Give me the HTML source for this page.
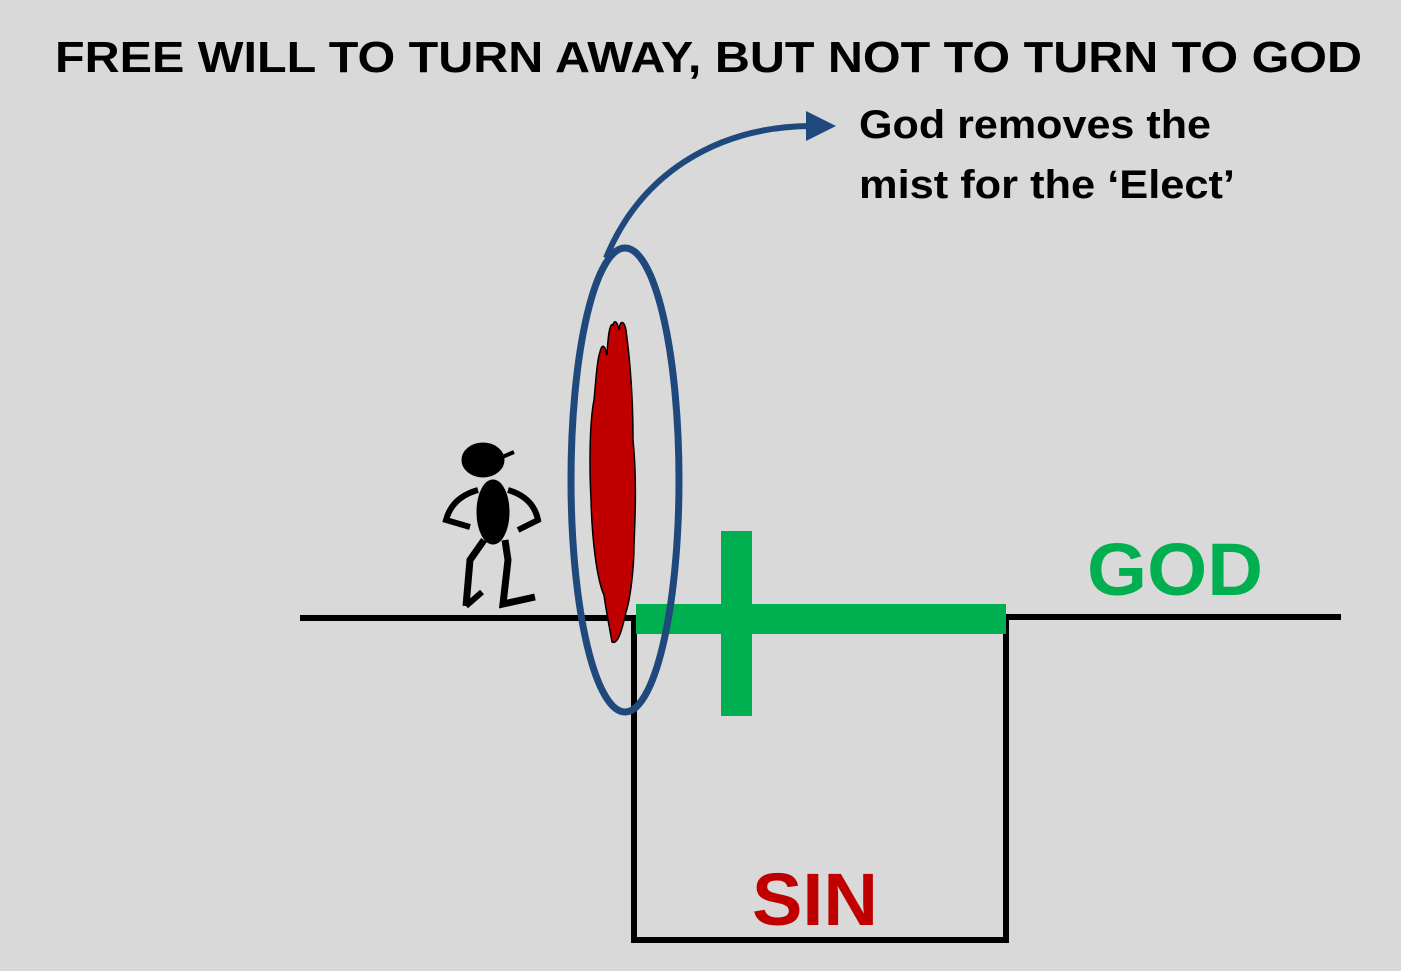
<!DOCTYPE html>
<html><head><meta charset="utf-8"><style>
html,body{margin:0;padding:0;background:#d9d9d9;}
svg{display:block;}
text{font-family:"Liberation Sans",sans-serif;font-weight:bold;}
</style></head><body>
<svg width="1401" height="971" viewBox="0 0 1401 971" xmlns="http://www.w3.org/2000/svg">
<rect width="1401" height="971" fill="#d9d9d9"/>
<text x="55" y="72" font-size="44" textLength="1307" lengthAdjust="spacingAndGlyphs" fill="#000">FREE WILL TO TURN AWAY, BUT NOT TO TURN TO GOD</text>
<text x="859" y="138" font-size="40" textLength="352" lengthAdjust="spacingAndGlyphs" fill="#000">God removes the</text>
<text x="859" y="198" font-size="40" textLength="376" lengthAdjust="spacingAndGlyphs" fill="#000">mist for the ‘Elect’</text>
<path d="M300,618 H634 V940 H1006 V617 H1341" fill="none" stroke="#000" stroke-width="6"/>
<rect x="636" y="604" width="370" height="30" fill="#00b050"/>
<rect x="721" y="531" width="31" height="185" fill="#00b050"/>
<text x="1087" y="595" font-size="74" textLength="176" lengthAdjust="spacingAndGlyphs" fill="#00b050">GOD</text>
<text x="752" y="925" font-size="74" textLength="126" lengthAdjust="spacingAndGlyphs" fill="#c00000">SIN</text>
<path d="M612,642 C609,625 606,610 604,595 C597,580 592,540 591,500 C589,460 590,420 594,400 C596,380 597,360 600,352 C602,343 605,345 607,355 C608,335 610,322 613,325 C614,320 617,320 619,330 C620,320 624,320 626,330 C630,360 633,400 633,440 C637,480 635,520 634,545 C634,570 630,600 626,612 C622,630 618,645 612,642 Z" fill="#c00000" stroke="#000" stroke-width="1.5"/>
<ellipse cx="625" cy="480" rx="54" ry="232" fill="none" stroke="#1f497d" stroke-width="7"/>
<path d="M606,258 C640,175 715,127 810,126" fill="none" stroke="#1f497d" stroke-width="6"/>
<polygon points="806,111 836,126 806,141" fill="#1f497d"/>
<g fill="#000" stroke="#000">
<ellipse cx="483" cy="460" rx="21" ry="17"/>
<path d="M500,458 L514,452" stroke-width="4"/>
<ellipse cx="493" cy="512" rx="16" ry="32"/>
<path d="M478,490 C460,495 450,505 446,520 L470,527" fill="none" stroke-width="6"/>
<path d="M508,490 C525,495 535,505 538,520 L518,530" fill="none" stroke-width="6"/>
<path d="M484,540 L470,560 L466,606" fill="none" stroke-width="7"/>
<path d="M505,540 L508,560 L503,604 L535,597" fill="none" stroke-width="7"/>
<path d="M466,606 L482,592" fill="none" stroke-width="6"/>
</g>
</svg>
</body></html>
